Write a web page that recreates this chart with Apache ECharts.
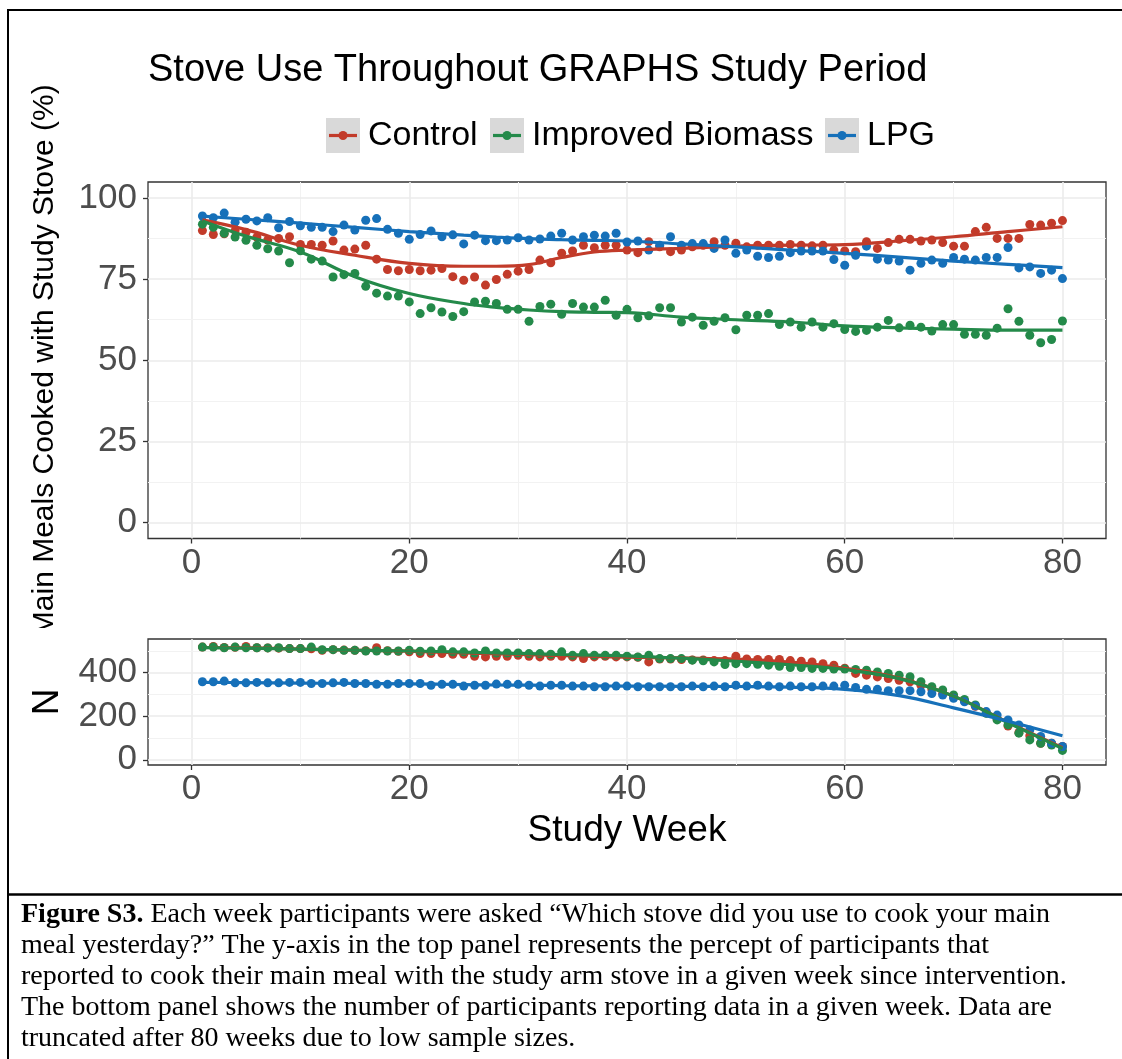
<!DOCTYPE html>
<html><head><meta charset="utf-8">
<script src="https://cdn.jsdelivr.net/npm/echarts@6/dist/echarts.min.js"></script>
<style>html,body{margin:0;padding:0;background:#fff}#c{width:1122px;height:1059px}</style>
</head><body><div id="c"></div>
<script>
// ---------- DATA ----------
const weeks = [1,2,3,4,5,6,7,8,9,10,11,12,13,14,15,16,17,18,19,20,21,22,23,24,25,26,27,28,29,30,31,32,33,34,35,36,37,38,39,40,41,42,43,44,45,46,47,48,49,50,51,52,53,54,55,56,57,58,59,60,61,62,63,64,65,66,67,68,69,70,71,72,73,74,75,76,77,78,79,80];
const seriesNames = ['Control', 'Improved Biomass', 'LPG'];

// % of main meals cooked with study stove
const controlPct = [90,88.8,89,90,89.5,88,87.1,87.6,88.1,85.7,85.7,85.5,86.8,84,84.3,85.5,81.2,78,77.6,78,77.6,77.8,78.3,75.8,74.7,75.7,73.2,74.9,76.5,77.5,78,80.9,80.1,83,83.7,85.5,84.7,85.5,85.5,84,83.2,86.6,85,83.5,84,85,85.5,86.6,85.5,86.1,85,85.5,85.5,85.5,85.7,85.5,85.3,85.5,84,83.7,83.5,86.6,84.5,86.3,87.3,87.3,86.8,87.1,86.3,85.2,85.2,89.7,91,87.6,87.6,87.6,91.9,91.7,92.3,93.1];
const biomassPct = [92,91,89.2,88,87,85.5,84.4,83.7,80.1,83.8,81.2,80.6,75.7,76.4,76.8,72.8,70.7,69.8,69.8,68,64.4,66.2,64.9,63.5,65,68,68.2,67.5,65.7,65.7,62,66.6,67.3,64.2,67.5,66.4,66.4,68.5,63.9,65.7,63.1,63.7,66.2,66.2,61.8,63.3,60.8,62,63.1,59.4,63.9,63.9,64.4,61,61.8,60.2,61.8,60.2,61.3,59.5,58.9,59.2,60.2,62.3,60,60.8,60.2,59,61,61,58,58,57.7,59.9,65.9,62,57.7,55.4,56.4,62.1];
const lpgPct = [94.5,94,95.4,92.6,93.5,93,94,90.9,92.8,91.5,91,91,89.7,91.7,90.2,93.2,93.7,90.4,89.2,87.3,88.8,89.9,88.1,88.7,85.9,88.6,86.9,86.9,87.1,87.8,87.1,87.4,88.3,89.2,87.1,88.1,88.6,88.3,89.2,86.5,86.8,84,85.5,88.1,85.5,86,86,84.5,87.1,83,84,82.1,81.7,82.1,83.2,83.7,83.7,83.7,81.1,79.3,82.4,85.2,81.2,80.9,80.6,77.8,79.9,80.9,79.9,81.7,81.2,80.9,81.7,81.7,84.8,78.5,78.8,76.8,77.8,75.2];

// N participants reporting
const controlN = [517,520,515,516,520,514,513,512,510,510,509,502,505,503,502,500,514,500,498,495,487,487,487,484,484,475,472,475,475,479,475,472,475,475,472,464,472,475,472,472,470,449,462,462,460,458,458,455,455,475,462,460,460,460,455,452,449,441,434,420,396,388,380,373,365,358,342,325,305,290,270,245,215,185,155,125,110,76,76,61];
const biomassN = [517,517,514,517,514,514,513,514,510,510,517,505,505,502,502,499,499,499,499,502,498,499,505,495,495,490,499,490,490,490,487,487,484,495,479,487,479,479,479,475,472,479,464,464,464,457,454,449,437,441,441,438,434,429,423,423,419,419,416,416,414,411,403,396,388,381,358,335,320,297,277,251,213,183,160,122,91,76,68,43];
const lpgN = [358,358,361,353,353,355,353,353,355,355,350,350,353,355,350,350,346,346,350,350,350,342,346,346,338,342,342,347,346,346,342,338,342,342,338,338,335,335,338,338,335,335,335,335,335,338,335,338,335,342,338,342,338,335,338,335,335,338,338,342,332,323,323,317,317,317,312,304,297,282,266,247,221,205,183,160,137,107,76,61];

// smoothed (loess) curves
const fitWeeks = [1,5,10,15,20,25,28,31,34,37,40,45,50,55,60,65,70,75,80];
const controlPctFit = [93.3,90.3,85.5,82.4,79.9,79.0,79.0,79.5,81.7,83.4,84.0,84.5,85.2,85.5,85.7,86.8,88.1,89.7,91.2];
const biomassPctFit = [93.0,88.3,83.4,75.8,70.6,67.5,66.3,65.5,65.0,64.8,64.7,63.3,62.5,61.8,60.6,60.0,59.6,59.3,59.3];
const lpgPctFit = [94.5,93.5,92.3,91.0,89.7,88.6,88.0,87.5,87.2,87.0,86.8,85.9,85.0,84.0,83.0,81.8,80.6,79.6,78.6];
const controlNFit = [515,513,508,503,498,490,486,482,478,474,471,467,462,448,420,375,292,172,55];
const biomassNFit = [514,512,508,503,499,494,490,487,483,480,477,466,452,436,414,372,292,170,52];
const lpgNFit = [355,354,352,350,348,345,343,342,340,339,338,337,336,333,323,294,238,177,110];

const xTicks = [0,20,40,60,80];
const xMinor = [10,30,50,70];
const pctTicks = [0,25,50,75,100];
const pctMinor = [12.5,37.5,62.5,87.5];
const nTicks = [0,200,400];
const nMinor = [100,300,500];

// ---------- STYLE ----------
const colors = ['#C23B2A', '#248A4A', '#1670B9'];
const FONT = 'Liberation Sans';
const pair = (xs, ys) => xs.map((x, i) => [x, ys[i]]);

function gridLines(xi, major, minor, axisKey) {
  const d = [];
  minor.forEach(v => d.push({[axisKey]: v, lineStyle: {color: '#F2F2F2', width: 1, type: 'solid'}}));
  major.forEach(v => d.push({[axisKey]: v, lineStyle: {color: '#EBEBEB', width: 1.6, type: 'solid'}}));
  return d;
}
function gridSeries(idx, yMajor, yMinor) {
  return {
    type: 'line', xAxisIndex: idx, yAxisIndex: idx, data: [], silent: true, z: 1,
    markLine: {
      silent: true, symbol: ['none', 'none'], label: {show: false}, z: 1, animation: false,
      emphasis: {disabled: true},
      data: gridLines(idx, xTicks, xMinor, 'xAxis').concat(gridLines(idx, yMajor, yMinor, 'yAxis'))
    }
  };
}

const pctSets = [controlPct, biomassPct, lpgPct];
const nSets = [controlN, biomassN, lpgN];
const pctFits = [controlPctFit, biomassPctFit, lpgPctFit];
const nFits = [controlNFit, biomassNFit, lpgNFit];

const series = [gridSeries(0, pctTicks, pctMinor), gridSeries(1, nTicks, nMinor)];
[0, 1].forEach(g => {
  const sets = g === 0 ? pctSets : nSets;
  const fits = g === 0 ? pctFits : nFits;
  sets.forEach((vals, i) => series.push({
    name: seriesNames[i], type: 'scatter', xAxisIndex: g, yAxisIndex: g,
    data: pair(weeks, vals), symbolSize: 9, z: 3,
    itemStyle: {color: colors[i], opacity: 1}
  }));
  fits.forEach((vals, i) => series.push({
    name: seriesNames[i], type: 'line', xAxisIndex: g, yAxisIndex: g,
    data: pair(fitWeeks, vals), smooth: 0.4, symbol: 'none', z: 4,
    lineStyle: {color: colors[i], width: 3.2}
  }));
});

function xAxis(idx, extra) {
  return Object.assign({
    type: 'value', gridIndex: idx, min: -4, max: 84,
    axisLine: {show: false, onZero: false},
    axisTick: {show: true, length: 5, customValues: xTicks, lineStyle: {color: '#333', width: 1.3}},
    axisLabel: {customValues: xTicks, fontSize: 35, color: '#4D4D4D', margin: 7, fontFamily: FONT},
    splitLine: {show: false}
  }, extra || {});
}
function yAxis(idx, min, max, ticks, extra) {
  return Object.assign({
    type: 'value', gridIndex: idx, min: min, max: max,
    axisLine: {show: false, onZero: false},
    axisTick: {show: true, length: 5, customValues: ticks, lineStyle: {color: '#333', width: 1.3}},
    axisLabel: {customValues: ticks, fontSize: 35, color: '#4D4D4D', margin: 11, fontFamily: FONT},
    splitLine: {show: false}
  }, extra || {});
}

// legend built from series names/colours
const legendKeys = [326, 490, 825];
const legendGraphics = [];
seriesNames.forEach((nm, i) => {
  const x = legendKeys[i], y = 118;
  legendGraphics.push({type: 'rect', shape: {x: x, y: y, width: 34, height: 35}, style: {fill: '#D9D9D9'}, z: 50});
  legendGraphics.push({type: 'line', shape: {x1: x + 3, y1: y + 17.5, x2: x + 31, y2: y + 17.5}, style: {stroke: colors[i], lineWidth: 3.2}, z: 51});
  legendGraphics.push({type: 'circle', shape: {cx: x + 17, cy: y + 17.5, r: 4.5}, style: {fill: colors[i]}, z: 52});
  legendGraphics.push({type: 'text', x: x + 42, y: y + 17.5, style: {text: nm, font: '34px "Liberation Sans"', fill: '#000', verticalAlign: 'middle', align: 'left'}, z: 52});
});

const caption = [
  '{b|Figure S3.} Each week participants were asked \u201cWhich stove did you use to cook your main',
  'meal yesterday?\u201d The y-axis in the top panel represents the percept of participants that',
  'reported to cook their main meal with the study arm stove in a given week since intervention.',
  'The bottom panel shows the number of participants reporting data in a given week. Data are',
  'truncated after 80 weeks due to low sample sizes.'
].join('\n');

const option = {
  animation: false,
  backgroundColor: '#fff',
  textStyle: {fontFamily: FONT},
  title: {
    text: 'Stove Use Throughout GRAPHS Study Period', left: 148, top: 52, padding: 0,
    textStyle: {fontSize: 38, fontWeight: 'normal', color: '#000', fontFamily: FONT}
  },
  grid: [
    {left: 148, top: 182, width: 958, height: 356.5, show: true, backgroundColor: '#fff', borderColor: '#333', borderWidth: 1.3, containLabel: false, outerBoundsMode: 'none'},
    {left: 148, top: 639, width: 958, height: 126, show: true, backgroundColor: '#fff', borderColor: '#333', borderWidth: 1.3, containLabel: false, outerBoundsMode: 'none'}
  ],
  xAxis: [
    xAxis(0),
    xAxis(1, {name: 'Study Week', nameLocation: 'middle', nameGap: 47, nameMoveOverlap: false,
      nameTextStyle: {fontSize: 37, color: '#000', fontFamily: FONT}})
  ],
  yAxis: [
    yAxis(0, -5, 105, pctTicks, {name: 'Main Meals Cooked with Study Stove (%)', nameLocation: 'middle', nameGap: 88, nameMoveOverlap: false,
      nameTextStyle: {fontSize: 30, color: '#000', fontFamily: FONT}}),
    yAxis(1, -24, 554, nTicks, {name: 'N', nameLocation: 'middle', nameGap: 82, nameMoveOverlap: false,
      nameTextStyle: {fontSize: 37, color: '#000', fontFamily: FONT}})
  ],
  series: series,
  graphic: legendGraphics.concat([
    // clip of the y title where the lower plot starts
    {type: 'rect', shape: {x: 12, y: 628, width: 78, height: 28}, style: {fill: '#fff'}, z: 100},
    // page frame
    {type: 'line', shape: {x1: 7, y1: 10, x2: 1122, y2: 10}, style: {stroke: '#000', lineWidth: 2}, z: 101},
    {type: 'line', shape: {x1: 8, y1: 9, x2: 8, y2: 1059}, style: {stroke: '#000', lineWidth: 2}, z: 101},
    {type: 'line', shape: {x1: 7, y1: 894.5, x2: 1122, y2: 894.5}, style: {stroke: '#000', lineWidth: 2.5}, z: 101},
    {type: 'text', x: 21, y: 899, z: 101, style: {
      text: caption, font: '28px "Liberation Serif"', fill: '#000', lineHeight: 31,
      rich: {b: {font: 'bold 28px "Liberation Serif"', fill: '#000', lineHeight: 31}}
    }}
  ])
};

const chart = echarts.init(document.getElementById('c'), null, {renderer: 'canvas'});
chart.setOption(option);
</script>
</body></html>
